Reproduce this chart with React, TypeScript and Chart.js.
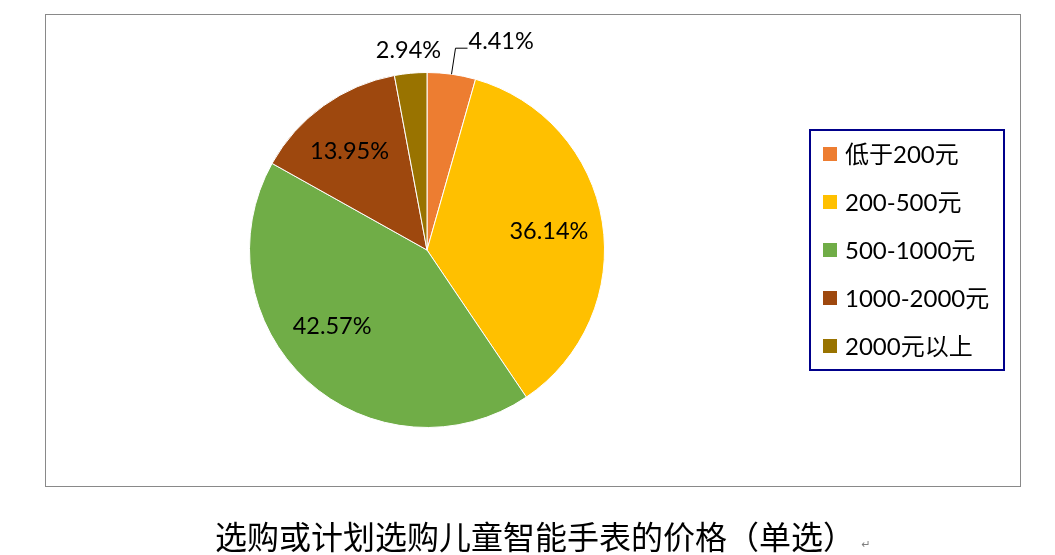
import React, { useEffect, useRef } from "react";
import { Chart, registerables } from "chart.js";

Chart.register(...registerables);

const categories = ["低于200元", "200-500元", "500-1000元", "1000-2000元", "2000元以上"];
const shares = [4.41, 36.14, 42.57, 13.95, 2.94];
const sliceColors = ["#ED7D31", "#FFC000", "#70AD47", "#9E480E", "#997300"];
const titleText = "选购或计划选购儿童智能手表的价格（单选）";

const LABEL_FONT = '23.5px Lato, "Noto Sans CJK SC", sans-serif';
const LEGEND_FONT = '24px Lato, "Noto Sans CJK SC", sans-serif';
const TITLE_FONT = '32px "Noto Sans CJK SC", sans-serif';

// small placement nudges for the inside labels (px), by slice index
const labelNudge: Record<number, [number, number]> = { 1: [1, 1], 2: [-12, -14], 3: [-6, 1] };

const decorPlugin = {
  id: "decor",
  beforeDraw(chart: any) {
    const ctx = chart.ctx;
    ctx.save();
    ctx.fillStyle = "#ffffff";
    ctx.fillRect(0, 0, chart.width, chart.height);
    ctx.strokeStyle = "#898989";
    ctx.lineWidth = 1;
    ctx.strokeRect(45.5, 14.5, 975, 472);
    ctx.restore();
  },
  afterDraw(chart: any) {
    const ctx = chart.ctx;
    const meta = chart.getDatasetMeta(0);
    ctx.save();
    ctx.fillStyle = "#000000";
    ctx.font = LABEL_FONT;
    ctx.textBaseline = "middle";
    meta.data.forEach((arc: any, i: number) => {
      const { x, y, startAngle, endAngle, outerRadius } = arc.getProps(
        ["x", "y", "startAngle", "endAngle", "outerRadius"],
        true
      );
      const mid = (startAngle + endAngle) / 2;
      const label = shares[i].toFixed(2) + "%";
      const pct = shares[i];
      if (pct > 10) {
        const r = outerRadius * 0.69;
        const n = labelNudge[i] || [0, 0];
        ctx.textAlign = "center";
        ctx.fillText(label, x + Math.cos(mid) * r + n[0], y + Math.sin(mid) * r + n[1]);
      } else if (i === 0) {
        const ex = x + Math.cos(mid) * outerRadius;
        const ey = y + Math.sin(mid) * outerRadius;
        ctx.strokeStyle = "#000000";
        ctx.lineWidth = 1;
        ctx.beginPath();
        ctx.moveTo(ex, ey);
        ctx.lineTo(ex + 4, ey - 26);
        ctx.lineTo(ex + 16, ey - 26);
        ctx.stroke();
        ctx.textAlign = "left";
        ctx.fillText(label, ex + 17, ey - 33);
      } else {
        const r = outerRadius * 1.13;
        ctx.textAlign = "center";
        ctx.fillText(label, x + Math.cos(mid) * r, y + Math.sin(mid) * r);
      }
    });

    // legend
    ctx.strokeStyle = "#00008B";
    ctx.lineWidth = 2;
    ctx.strokeRect(810, 130, 194, 240);
    ctx.font = LEGEND_FONT;
    ctx.textAlign = "left";
    ctx.textBaseline = "middle";
    categories.forEach((c, i) => {
      const cy = 154 + i * 48;
      ctx.fillStyle = sliceColors[i];
      ctx.fillRect(823, cy - 7, 14, 14);
      ctx.fillStyle = "#000000";
      ctx.fillText(c, 845, cy + 1);
    });

    // title
    ctx.font = TITLE_FONT;
    ctx.textAlign = "center";
    ctx.fillStyle = "#000000";
    ctx.fillText(titleText, 535, 537);
    ctx.font = '11px "DejaVu Sans", sans-serif';
    ctx.fillStyle = "#7f7f7f";
    ctx.fillText("↵", 866, 545);
    ctx.restore();
  },
};

export default function App() {
  const ref = useRef<HTMLCanvasElement | null>(null);
  useEffect(() => {
    if (!ref.current) return;
    const chart = new Chart(ref.current, {
      type: "pie",
      data: {
        labels: categories,
        datasets: [
          {
            data: shares,
            backgroundColor: sliceColors,
            borderColor: "#ffffff",
            borderWidth: 1,
          },
        ],
      },
      options: {
        responsive: false,
        animation: false,
        layout: { padding: { left: 249, top: 72, right: 450, bottom: 127 } },
        plugins: {
          legend: { display: false },
          tooltip: { enabled: false },
          title: { display: false },
        },
      },
      plugins: [decorPlugin],
    });
    return () => chart.destroy();
  }, []);
  return (
    <div style={{ position: "fixed", left: 0, top: 0, width: 1055, height: 555, background: "#fff" }}>
      <canvas ref={ref} width={1055} height={555} style={{ display: "block", width: 1055, height: 555 }} />
    </div>
  );
}
